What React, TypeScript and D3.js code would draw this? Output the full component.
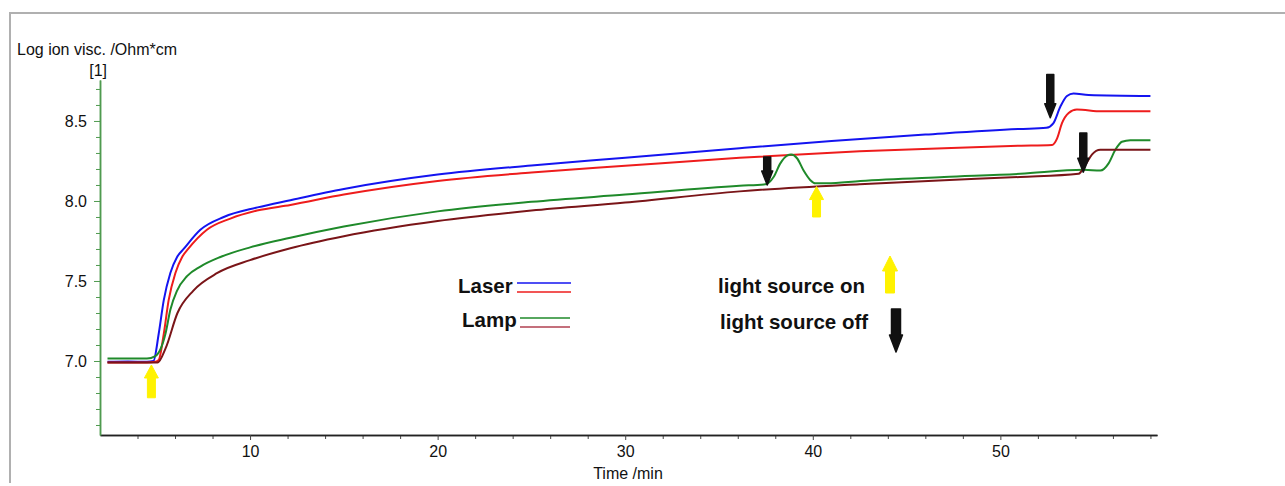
import React, { useEffect, useRef } from 'react';
import * as d3 from 'd3';

const W = 1285, H = 486;

// [time /min, log ion visc.]
const laserBlue: [number, number][] = [
  [2.4, 6.995], [3.5, 6.997], [4.5, 6.995], [4.85, 7.0], [5.13, 7.17], [5.4, 7.38], [5.75, 7.55],
  [6.11, 7.65], [6.46, 7.7], [7.35, 7.82], [8.6, 7.9], [10.4, 7.96], [12.15, 8.005], [15, 8.075],
  [20, 8.165], [25, 8.222], [30, 8.27], [36.1, 8.33], [41, 8.375], [46, 8.415], [51, 8.45],
  [52.45, 8.457], [52.82, 8.485], [53.2, 8.59], [53.55, 8.656], [53.9, 8.672], [54.7, 8.662], [58, 8.656]
];
const laserRed: [number, number][] = [
  [2.4, 6.99], [4.5, 6.99], [4.95, 6.995], [5.13, 7.006], [5.4, 7.17], [5.66, 7.38], [6.02, 7.55],
  [6.38, 7.65], [6.7, 7.7], [7.7, 7.82], [8.95, 7.89], [10.37, 7.94], [12.15, 7.975], [15, 8.04],
  [20, 8.125], [25, 8.178], [30, 8.22], [36.1, 8.27], [42.5, 8.31], [47, 8.33], [51, 8.345],
  [52.75, 8.35], [53.02, 8.39], [53.28, 8.485], [53.64, 8.55], [54.08, 8.572], [55.4, 8.56], [58, 8.56]
];
const lampGreen: [number, number][] = [
  [2.4, 7.015], [4.5, 7.015], [4.95, 7.03], [5.49, 7.17], [5.75, 7.32], [6.11, 7.44], [6.64, 7.53],
  [7.35, 7.59], [8.42, 7.65], [10, 7.71], [12.15, 7.77], [15, 7.84], [20, 7.935], [25, 7.995],
  [30, 8.04], [36.1, 8.095], [37.47, 8.104], [37.91, 8.15], [38.27, 8.235], [38.63, 8.283],
  [38.84, 8.29], [39.16, 8.267], [39.51, 8.19], [39.87, 8.13], [40.13, 8.11], [40.76, 8.11],
  [42.53, 8.125], [47, 8.15], [51.06, 8.17], [54.44, 8.195], [55.33, 8.19], [55.77, 8.235],
  [56.13, 8.32], [56.48, 8.37], [56.93, 8.38], [58, 8.38]
];
const lampMaroon: [number, number][] = [
  [2.4, 6.99], [4.6, 6.99], [5.07, 6.99], [5.5, 7.08], [6.13, 7.3], [6.98, 7.44], [8.26, 7.55],
  [10, 7.63], [12.15, 7.705], [15, 7.78], [20, 7.875], [25, 7.94], [30, 7.99],
  [36.1, 8.06], [42.5, 8.105], [47, 8.13], [51.06, 8.15], [54.17, 8.17], [54.53, 8.225],
  [54.88, 8.29], [55.33, 8.32], [58, 8.32]
];

const series = [
  { name: 'laser1', data: laserBlue, color: '#1414f0' },
  { name: 'laser2', data: laserRed, color: '#ee1c1c' },
  { name: 'lamp1', data: lampGreen, color: '#1f8a2a' },
  { name: 'lamp2', data: lampMaroon, color: '#7a1518' }
];

const xMajor = [10, 20, 30, 40, 50];
const xMinor = [4, 6, 8, 12, 14, 16, 18, 22, 24, 26, 28, 32, 34, 36, 38, 42, 44, 46, 48, 52, 54, 56, 58];
const yMajor = [7.0, 7.5, 8.0, 8.5];
const yMinor = [6.6, 6.7, 6.8, 6.9, 7.1, 7.2, 7.3, 7.4, 7.6, 7.7, 7.8, 7.9, 8.1, 8.2, 8.3, 8.4, 8.6, 8.7];

// arrows: [time, tail value, tip value]
const lightOn: [number, number, number][] = [[4.74, 6.77, 6.975], [40.2, 7.9, 8.09]];
const lightOff: [number, number, number][] = [[37.57, 8.275, 8.1], [52.66, 8.79, 8.52], [54.42, 8.425, 8.18]];

const FONT = '"Liberation Sans", Arial, sans-serif';

function arrowPath(x: number, y0: number, y1: number, sw: number, hw: number, hl: number) {
  const d = y1 < y0 ? 1 : -1; // head direction
  const neck = y1 + d * hl;
  return `M${x - sw / 2},${y0}L${x - sw / 2},${neck}L${x - hw / 2},${neck}L${x},${y1}` +
    `L${x + hw / 2},${neck}L${x + sw / 2},${neck}L${x + sw / 2},${y0}Z`;
}

export default function App() {
  const ref = useRef<SVGSVGElement>(null);

  useEffect(() => {
    const svg = d3.select(ref.current);
    svg.selectAll('*').remove();

    const x = d3.scaleLinear().domain([2, 58.35]).range([100, 1157]);
    const y = d3.scaleLinear().domain([6.5375, 8.756]).range([435, 80]);

    // frame
    svg.append('path')
      .attr('d', `M10,483L10,13L${W},13`)
      .attr('fill', 'none').attr('stroke', '#b0b0b0').attr('stroke-width', 2);

    // x axis (minor ticks in their own group)
    const gxm = svg.append('g').attr('transform', 'translate(0,435)');
    gxm.call(d3.axisBottom(x).tickValues(xMinor).tickSize(4).tickSizeOuter(0).tickFormat(() => '') as any);
    const gx = svg.append('g').attr('transform', 'translate(0,435)');
    gx.call(d3.axisBottom(x).tickValues(xMajor).tickSize(5).tickSizeOuter(0).tickFormat(d3.format('d')) as any);
    svg.selectAll('.domain').attr('stroke', '#222').attr('stroke-width', 1.5);
    gx.selectAll('line').attr('stroke', '#444');
    gxm.selectAll('line').attr('stroke', '#444');
    gx.selectAll('text').attr('font-family', FONT).attr('font-size', 16).attr('fill', '#111').attr('y', 11);

    // y axis
    const gym = svg.append('g').attr('transform', 'translate(100,0)');
    gym.call(d3.axisLeft(y).tickValues(yMinor).tickSize(4).tickSizeOuter(0).tickFormat(() => '') as any);
    const gy = svg.append('g').attr('transform', 'translate(100,0)');
    gy.call(d3.axisLeft(y).tickValues(yMajor).tickSize(6).tickSizeOuter(0).tickFormat(d3.format('.1f')) as any);
    gym.selectAll('.domain').attr('stroke', '#4f9a4f').attr('stroke-width', 1.5);
    gy.selectAll('.domain').attr('stroke', '#4f9a4f').attr('stroke-width', 1.5);
    gy.selectAll('line').attr('stroke', '#4f9a4f');
    gym.selectAll('line').attr('stroke', '#4f9a4f');
    gy.selectAll('text').attr('font-family', FONT).attr('font-size', 16).attr('fill', '#111').attr('x', -13);

    svg.append('text').attr('x', 17).attr('y', 55).text('Log ion visc. /Ohm*cm')
      .attr('font-family', FONT).attr('font-size', 16).attr('fill', '#111');
    svg.append('text').attr('x', 107).attr('y', 76).attr('text-anchor', 'end').text('[1]')
      .attr('font-family', FONT).attr('font-size', 16).attr('fill', '#111');
    svg.append('text').attr('x', 628).attr('y', 479).attr('text-anchor', 'middle').text('Time /min')
      .attr('font-family', FONT).attr('font-size', 16).attr('fill', '#111');

    // curves
    const line = d3.line<[number, number]>()
      .x(d => x(d[0])).y(d => y(d[1]))
      .curve(d3.curveMonotoneX);
    svg.selectAll('.curve').data(series).enter().append('path')
      .attr('class', 'curve')
      .attr('d', d => line(d.data))
      .attr('fill', 'none')
      .attr('stroke', d => d.color)
      .attr('stroke-width', 2);

    // arrows on the chart
    svg.selectAll('.on').data(lightOn).enter().append('path')
      .attr('class', 'on')
      .attr('d', d => arrowPath(x(d[0]), y(d[1]), y(d[2]), 8, 14, 13))
      .attr('fill', '#fff200').attr('stroke', '#fff200').attr('stroke-linejoin', 'round');
    svg.selectAll('.off').data(lightOff).enter().append('path')
      .attr('class', 'off')
      .attr('d', d => arrowPath(x(d[0]), y(d[1]), y(d[2]), 7, 11, 14))
      .attr('fill', '#111').attr('stroke', '#111').attr('stroke-width', 1.5).attr('stroke-linejoin', 'round');

    // legend
    const lg = svg.append('g').attr('font-family', FONT).attr('font-size', 20.5).attr('font-weight', 'bold').attr('fill', '#111');
    lg.append('text').attr('x', 458).attr('y', 293).text('Laser');
    lg.append('text').attr('x', 462).attr('y', 327).text('Lamp');
    lg.append('text').attr('x', 718).attr('y', 293).text('light source on');
    lg.append('text').attr('x', 720).attr('y', 329).text('light source off');
    const legendLines = [
      { x1: 517, x2: 571, yy: 283, c: series[0].color },
      { x1: 517, x2: 571, yy: 292, c: series[1].color },
      { x1: 520, x2: 570, yy: 318, c: series[2].color },
      { x1: 520, x2: 570, yy: 327, c: '#b04050' }
    ];
    svg.selectAll('.lgline').data(legendLines).enter().append('line')
      .attr('class', 'lgline')
      .attr('x1', d => d.x1).attr('x2', d => d.x2).attr('y1', d => d.yy).attr('y2', d => d.yy)
      .attr('stroke', d => d.c).attr('stroke-width', 1.3);
    svg.append('path').attr('d', arrowPath(890, 293, 256, 9, 15, 15))
      .attr('fill', '#fff200').attr('stroke', '#fff200').attr('stroke-linejoin', 'round');
    svg.append('path').attr('d', arrowPath(896, 309, 352, 9, 13, 17))
      .attr('fill', '#111').attr('stroke', '#111').attr('stroke-width', 1.5).attr('stroke-linejoin', 'round');
  }, []);

  return (
    <svg ref={ref} width={W} height={H}
      style={{ position: 'absolute', left: 0, top: 0, background: '#fff' }} />
  );
}
